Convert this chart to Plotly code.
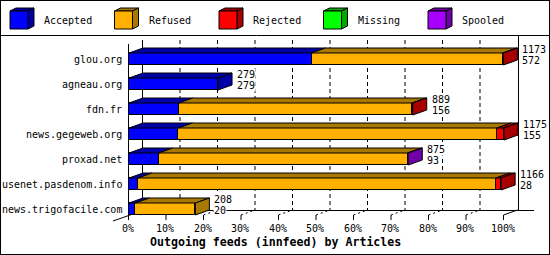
import plotly.graph_objects as go

# ---------------- data ----------------
hosts = ["glou.org", "agneau.org", "fdn.fr", "news.gegeweb.org",
         "proxad.net", "usenet.pasdenom.info", "news.trigofacile.com"]
offered = [1173, 279, 889, 1175, 875, 1166, 208]
accepted = [572, 279, 156, 155, 93, 28, 20]
refused = [599, 0, 731, 998, 780, 1122, 188]
rejected = [2, 0, 2, 22, 0, 16, 0]
missing = [0, 0, 0, 0, 0, 0, 0]
spooled = [0, 0, 0, 0, 2, 0, 0]
series_names = ["Accepted", "Refused", "Rejected", "Missing", "Spooled"]
series_values = [accepted, refused, rejected, missing, spooled]
tick_labels = ["0%", "10%", "20%", "30%", "40%", "50%", "60%", "70%", "80%", "90%", "100%"]
title_text = "Outgoing feeds (innfeed) by Articles"

# ---------------- styles ----------------
front_colors = ["#0000ff", "#ffb000", "#ff0000", "#00ff00", "#a800ff"]
dark_colors = ["#0000a8", "#a87800", "#a80000", "#00a800", "#7000a8"]
FONT = "DejaVu Sans Mono"

W, H = 550, 255
X0, SX = 129.0, 3.75      # px of front 0%, px per percent
Y0, SY = 59.0, 25.0       # px of first row centre, px per row
DXP, DYP = 14.0, 5.0      # 3-D depth offset in px
DX, DY = DXP / SX, DYP / SY
BAR_W = 12.0 / SY


def px2x(px):
    return (px - X0) / SX


def py2y(py):
    return (py - Y0) / SY


scale = 100.0 / max(offered)

fig = go.Figure()

# ---------------- bars (front faces) ----------------
n = len(hosts)
cum = [0.0] * n
seg = []  # per series list of (start, end) per row
for s, vals in enumerate(series_values):
    bases, lens, rows = [], [], []
    segs = []
    for i in range(n):
        a = cum[i]
        b = a + vals[i] * scale
        segs.append((a, b) if vals[i] > 0 else None)
        if vals[i] > 0:
            bases.append(a)
            lens.append(b - a)
            rows.append(i)
        cum[i] = b
    seg.append(segs)
    if rows:
        fig.add_trace(go.Bar(
            orientation="h", y=rows, x=lens, base=bases, width=BAR_W,
            marker=dict(color=front_colors[s], line=dict(color="black", width=1)),
            showlegend=False, hoverinfo="skip"))

# ---------------- top faces ----------------
for s in range(len(series_values)):
    xs, ys = [], []
    for i in range(n):
        if seg[s][i] is None:
            continue
        a, b = seg[s][i]
        top = i - BAR_W / 2
        xs += [a, a + DX, b + DX, b, a, None]
        ys += [top, top - DY, top - DY, top, top, None]
    if xs:
        fig.add_trace(go.Scatter(x=xs, y=ys, mode="lines", fill="toself",
                                 fillcolor=dark_colors[s],
                                 line=dict(color="black", width=1),
                                 showlegend=False, hoverinfo="skip"))

# ---------------- side faces ----------------
side = {s: ([], []) for s in range(len(series_values))}
for i in range(n):
    last = max(s for s in range(len(series_values)) if seg[s][i] is not None)
    b = seg[last][i][1]
    top = i - BAR_W / 2
    bot = i + BAR_W / 2
    xs, ys = side[last]
    xs += [b, b + DX, b + DX, b, b, None]
    ys += [top, top - DY, bot - DY, bot, top, None]
for s, (xs, ys) in side.items():
    if xs:
        fig.add_trace(go.Scatter(x=xs, y=ys, mode="lines", fill="toself",
                                 fillcolor=dark_colors[s],
                                 line=dict(color="black", width=1),
                                 showlegend=False, hoverinfo="skip"))

shapes = []
annotations = []


def line_px(x0, y0, x1, y1, dash="solid", layer="below"):
    shapes.append(dict(type="line", xref="x", yref="y",
                       x0=px2x(x0), y0=py2y(y0), x1=px2x(x1), y1=py2y(y1),
                       line=dict(color="black", width=1, dash=dash), layer=layer))


# ---------------- back wall / floor ----------------
back0 = X0 + DXP
for k in range(len(tick_labels)):
    xb = back0 + k * 37.5 - 0.5
    if k == 0:
        line_px(xb, 40, xb, 210)
    elif k == len(tick_labels) - 1:
        line_px(xb + 1, 35, xb + 1, 210.5)
    else:
        line_px(xb, 40, xb, 210, dash="4px,3px")
line_px(back0, 210.5, 534, 210.5)
line_px(113, 221, back0, 210.5)
line_px(128.5, 44, 128.5, 216)

for k, lab in enumerate(tick_labels):
    xf = X0 + k * 37.5 - 0.5
    line_px(xf, 215, xf, 220)
    if k > 0:
        line_px(xf, 215, xf + DXP, 210, dash="solid" if k == len(tick_labels) - 1 else "2px,3px")
    annotations.append(dict(x=px2x(xf - 1), y=py2y(228), xref="x", yref="y",
                            text=lab, showarrow=False, xanchor="center", yanchor="middle",
                            font=dict(family=FONT, size=10, color="black")))

# ---------------- category labels ----------------
for i, h in enumerate(hosts):
    annotations.append(dict(x=px2x(124), y=i, xref="x", yref="y", text=h,
                            showarrow=False, xanchor="right", yanchor="middle",
                            font=dict(family=FONT, size=10, color="black")))

# ---------------- value labels ----------------
for i in range(n):
    end = offered[i] * scale
    xl = end + DX + 4.0 / SX
    annotations.append(dict(x=xl, y=i - 9.5 / SY, xref="x", yref="y", text=str(offered[i]),
                            showarrow=False, xanchor="left", yanchor="middle",
                            bgcolor="white", borderpad=0,
                            font=dict(family=FONT, size=10, color="black")))
    annotations.append(dict(x=xl, y=i + 1.5 / SY, xref="x", yref="y", text=str(accepted[i]),
                            showarrow=False, xanchor="left", yanchor="middle",
                            bgcolor="white", borderpad=0,
                            font=dict(family=FONT, size=10, color="black")))

# ---------------- title ----------------
annotations.append(dict(x=px2x(275), y=py2y(242), xref="x", yref="y", text=title_text,
                        showarrow=False, xanchor="center", yanchor="middle",
                        font=dict(family=FONT, size=11.6, color="black", weight="bold")))

# ---------------- legend (3-D cubes) ----------------
for s, name in enumerate(series_names):
    lx = 10 + 104.5 * s
    t, b = 11, 29
    fx = [lx, lx + 18, lx + 18, lx, lx]
    fy = [t, t, b, b, t]
    tx = [lx, lx + 6, lx + 24, lx + 18, lx]
    ty = [t, t - 3, t - 3, t, t]
    sx = [lx + 18, lx + 24, lx + 24, lx + 18, lx + 18]
    sy = [t, t - 3, b - 3, b, t]
    for xs, ys, col in ((tx, ty, dark_colors[s]), (sx, sy, dark_colors[s]), (fx, fy, front_colors[s])):
        fig.add_trace(go.Scatter(x=[px2x(v) for v in xs], y=[py2y(v) for v in ys],
                                 mode="lines", fill="toself", fillcolor=col,
                                 line=dict(color="black", width=1),
                                 showlegend=False, hoverinfo="skip"))
    annotations.append(dict(x=px2x(lx + 32), y=py2y(20), xref="x", yref="y", text=name,
                            showarrow=False, xanchor="left", yanchor="middle",
                            font=dict(family=FONT, size=10, color="black")))

# frame and legend separator
shapes.append(dict(type="rect", xref="paper", yref="paper", x0=0, y0=0, x1=1, y1=1,
                   line=dict(color="black", width=2), layer="above"))
shapes.append(dict(type="line", xref="paper", yref="paper", x0=0, x1=1,
                   y0=1 - 35.5 / H, y1=1 - 35.5 / H,
                   line=dict(color="black", width=1), layer="above"))

fig.update_layout(
    width=W, height=H, margin=dict(l=0, r=0, t=0, b=0),
    paper_bgcolor="white", plot_bgcolor="white",
    barmode="overlay", bargap=0, bargroupgap=0,
    showlegend=False,
    xaxis=dict(range=[px2x(0), px2x(W)], visible=False, fixedrange=True),
    yaxis=dict(range=[py2y(H), py2y(0)], visible=False, fixedrange=True),
    shapes=shapes, annotations=annotations,
)

fig.write_html("out.html")
